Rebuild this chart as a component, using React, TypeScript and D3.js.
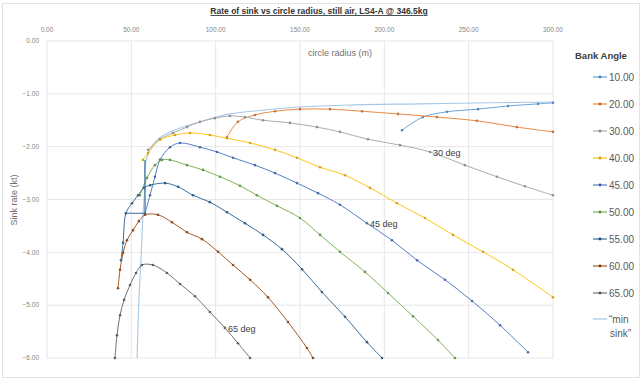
import * as d3 from 'd3'

type Pt = [number, number]

// radius (m), sink rate (kt)
const bank10: Pt[] = [[210.5, -1.69], [222.9, -1.44], [237.1, -1.34], [255.5, -1.29], [273.3, -1.23], [291.1, -1.19], [300, -1.17]]
const bank20: Pt[] = [[106.7, -1.82], [113.2, -1.53], [123.3, -1.4], [135.2, -1.33], [150, -1.29], [167.8, -1.29], [186.8, -1.33], [208.1, -1.38], [231.2, -1.44], [254.9, -1.51], [278.6, -1.63], [300, -1.72]]
const bank30: Pt[] = [[59.9, -2.06], [67, -1.86], [74.7, -1.74], [83, -1.63], [90.7, -1.53], [99.6, -1.46], [108.5, -1.42], [117.4, -1.44], [128.1, -1.5], [144.1, -1.55], [160.1, -1.63], [173.7, -1.72], [190.3, -1.86], [209.3, -1.97], [227.1, -2.1], [247.8, -2.35], [266.8, -2.57], [283.4, -2.75], [300, -2.92]]
const bank40: Pt[] = [[56.9, -2.25], [59.9, -2.12], [67, -1.87], [75.9, -1.78], [84.8, -1.74], [96.6, -1.78], [106.7, -1.84], [120.4, -1.93], [135.2, -2.06], [148.2, -2.21], [161.9, -2.39], [176.7, -2.54], [191.5, -2.78], [207.5, -3.07], [224.1, -3.35], [240.7, -3.67], [258.5, -3.99], [276.3, -4.33], [300, -4.85]]
const bank45: Pt[] = [[58.1, -3.26], [61.1, -2.92], [64, -2.57], [67, -2.25], [72.9, -2.01], [78.9, -1.93], [90.7, -2.01], [100.8, -2.1], [110.3, -2.21], [123.3, -2.35], [135.2, -2.5], [148.2, -2.69], [160.7, -2.88], [173.7, -3.1], [189.7, -3.45], [204.5, -3.77], [219.4, -4.15], [236, -4.52], [252, -4.92], [268.6, -5.38], [285.2, -5.89]]
const bank50: Pt[] = [[55.1, -2.92], [59.3, -2.59], [64, -2.35], [68.2, -2.25], [72.9, -2.25], [83, -2.35], [92.5, -2.44], [102.6, -2.57], [114.4, -2.74], [124.5, -2.92], [136.4, -3.12], [150, -3.35], [161.9, -3.67], [173.7, -3.99], [188.5, -4.37], [202.2, -4.77], [217, -5.21], [231.8, -5.66], [241.9, -6]]
const bank55: Pt[] = [[43.9, -4.15], [45.1, -3.82], [46.8, -3.26], [50.4, -3.07], [54, -2.92], [57.5, -2.78], [61.1, -2.73], [70, -2.69], [77.7, -2.76], [86.6, -2.92], [96.6, -3.05], [106.7, -3.24], [117.4, -3.45], [128.1, -3.67], [139.3, -3.94], [151.2, -4.32], [163, -4.75], [176.7, -5.22], [189.7, -5.7], [198.6, -6]]
const bank60: Pt[] = [[42.1, -4.68], [43.3, -4.33], [45.1, -4.01], [47.4, -3.77], [51, -3.58], [54.5, -3.41], [58.1, -3.29], [65.8, -3.29], [74.1, -3.43], [83, -3.62], [91.9, -3.75], [101.4, -3.99], [110.3, -4.24], [120.4, -4.52], [131, -4.85], [142.9, -5.32], [154.1, -5.81], [157.7, -6]]
const bank65: Pt[] = [[40.3, -6], [41.5, -5.57], [43.3, -5.19], [45.7, -4.9], [49.2, -4.62], [52.8, -4.39], [56.3, -4.24], [62.8, -4.24], [71.1, -4.39], [78.9, -4.6], [87.7, -4.83], [96.6, -5.13], [105.5, -5.43], [113.2, -5.72], [120.4, -6]]
const minSink: Pt[] = [[53.4, -6], [54.5, -4.9], [55.7, -4.15], [56.9, -3.29], [58.1, -2.73], [58.1, -2.35], [61.1, -2.06], [65.2, -1.87], [74.7, -1.7], [90.7, -1.53], [108.5, -1.38], [128.1, -1.31], [150, -1.25], [179.6, -1.21], [221.1, -1.19], [262.6, -1.17], [300, -1.155]]
const guideLine: Pt[] = [[46.8, -3.26], [58.1, -3.26], [58.1, -2.25]]

const bankLabels = ['10.00', '20.00', '30.00', '40.00', '45.00', '50.00', '55.00', '60.00', '65.00']
const bankSeries = [bank10, bank20, bank30, bank40, bank45, bank50, bank55, bank60, bank65]
const bankColors = ['#5B9BD5', '#ED7D31', '#A5A5A5', '#FFC000', '#4472C4', '#70AD47', '#255E91', '#9E480E', '#636363']
const minSinkColor = '#9DC3E6'

const xTicks = [0, 50, 100, 150, 200, 250, 300]
const yTicks = [0, -1, -2, -3, -4, -5, -6]

// data labels: series label, point index, text
const pointLabels = [
  { series: '30.00', index: 14, text: '30 deg' },
  { series: '45.00', index: 14, text: '45 deg' },
  { series: '65.00', index: 12, text: '65 deg' },
]

const W = 642
const H = 381
const font = '"Liberation Sans", Arial, sans-serif'

export default function App() {
  const x = d3.scaleLinear().domain([0, 300]).range([47, 553])
  const y = d3.scaleLinear().domain([0, -6]).range([41, 358])
  const smooth = d3.line<Pt>().x(d => x(d[0])).y(d => y(d[1])).curve(d3.curveCatmullRom.alpha(0.5))
  const straight = d3.line<Pt>().x(d => x(d[0])).y(d => y(d[1]))
  const fmt = d3.format('.2f')
  const dot = (c: string) => d3.color(c)!.darker(0.6).toString()

  return (
    <svg width={W} height={H} style={{ position: 'absolute', left: 0, top: 0, background: '#fff' }} fontFamily={font}>
      <rect x={2.5} y={3.5} width={637} height={374} fill="#fff" stroke="#e3e3e3" />

      <text x={319} y={14} textAnchor="middle" fontSize={8.5} fontWeight="bold" fill="#333" textDecoration="underline">
        Rate of sink vs circle radius, still air, LS4-A @ 346.5kg
      </text>

      {/* grid */}
      {xTicks.map(t => (
        <line key={'gx' + t} x1={x(t)} x2={x(t)} y1={y(0)} y2={y(-6)} stroke="#e0e0e0" strokeWidth={0.8} />
      ))}
      {yTicks.map(t => (
        <line key={'gy' + t} x1={x(0)} x2={x(300)} y1={y(t)} y2={y(t)} stroke="#e0e0e0" strokeWidth={0.8} />
      ))}

      {/* tick labels */}
      {xTicks.map(t => (
        <text key={'tx' + t} x={x(t)} y={32} textAnchor="middle" fontSize={6.5} fill="#858585">{fmt(t)}</text>
      ))}
      {yTicks.map(t => (
        <text key={'ty' + t} x={39} y={y(t) + 2.3} textAnchor="end" fontSize={6.5} fill="#858585">{fmt(t)}</text>
      ))}

      <text x={340} y={56} textAnchor="middle" fontSize={9} fill="#707070">circle radius (m)</text>
      <text transform="translate(17,200) rotate(-90)" textAnchor="middle" fontSize={9} fill="#707070">Sink rate (kt)</text>

      {/* series */}
      <g opacity={0.9}>
        <path d={smooth(minSink) ?? ''} fill="none" stroke={minSinkColor} strokeWidth={1.1} />
        {bankSeries.map((pts, i) => (
          <g key={bankLabels[i]}>
            <path d={smooth(pts) ?? ''} fill="none" stroke={bankColors[i]} strokeWidth={1} />
            {pts.map((p, j) => (
              <circle key={j} cx={x(p[0])} cy={y(p[1])} r={1.3} fill={dot(bankColors[i])} />
            ))}
          </g>
        ))}
        <path d={straight(guideLine) ?? ''} fill="none" stroke="#255E91" strokeWidth={1.2} />
      </g>

      {pointLabels.map(l => {
        const p = bankSeries[bankLabels.indexOf(l.series)][l.index]
        return (
          <text key={l.text} x={x(p[0]) + 3} y={y(p[1]) + 4} fontSize={9} fill="#404040">{l.text}</text>
        )
      })}

      {/* legend */}
      <text x={575} y={59} fontSize={9.5} fontWeight="bold" fill="#404040">Bank Angle</text>
      {bankLabels.map((lab, i) => {
        const ly = 77 + i * 27
        return (
          <g key={'lg' + lab}>
            <line x1={593} x2={607} y1={ly} y2={ly} stroke={bankColors[i]} strokeWidth={1.1} />
            <circle cx={600} cy={ly} r={1.4} fill={dot(bankColors[i])} />
            <text x={609} y={ly + 3.5} fontSize={10} fill="#595959">{lab}</text>
          </g>
        )
      })}
      <line x1={593} x2={607} y1={319} y2={319} stroke={minSinkColor} strokeWidth={1.1} />
      <text fontSize={10} fill="#595959">
        <tspan x={609} y={322.5}>“min</tspan>
        <tspan x={610} y={336.5}>sink”</tspan>
      </text>
    </svg>
  )
}
